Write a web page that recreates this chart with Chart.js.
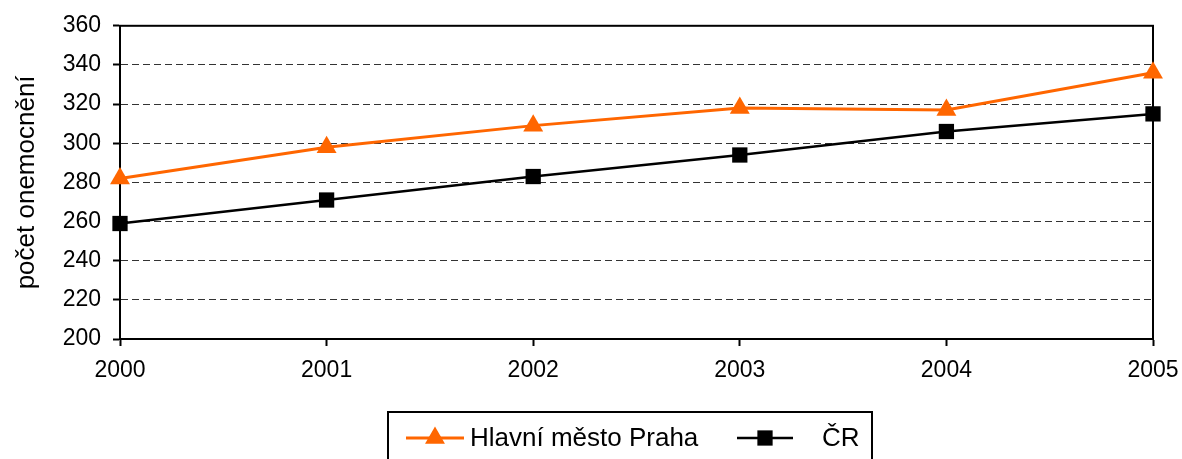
<!DOCTYPE html>
<html>
<head>
<meta charset="utf-8">
<script src="https://cdn.jsdelivr.net/npm/chart.js@4/dist/chart.umd.min.js"></script>
<style>
  html, body { margin: 0; padding: 0; background: #fff; }
  #wrap { width: 1182px; height: 459px; }
</style>
</head>
<body>
<div id="wrap"><canvas id="c" width="1182" height="459"></canvas></div>
<script>
// ── Data ────────────────────────────────────────────────────────────────────
const YEARS  = ['2000', '2001', '2002', '2003', '2004', '2005'];
const PRAHA  = [282, 298, 309, 318, 317, 336];
const CR     = [259, 271, 283, 294, 306, 315];
const Y_MIN  = 200;
const Y_MAX  = 360;
const Y_STEP = 20;

const FAMILY = 'Arial, "Liberation Sans", sans-serif';
const TICK_FONT  = { family: FAMILY, size: 23 };
const LABEL_FONT = { family: FAMILY, size: 26 };
const ORANGE = '#ff6600';

// ── Plugins ─────────────────────────────────────────────────────────────────

// Solid frame round the plot area, drawn under the lines/markers.
const framePlugin = {
  id: 'frame',
  beforeDatasetsDraw(chart) {
    const { ctx, chartArea: a } = chart;
    ctx.save();
    ctx.strokeStyle = '#000';
    ctx.lineWidth = 2;
    ctx.strokeRect(a.left, a.top, a.right - a.left, a.bottom - a.top);
    ctx.restore();
  },
};

// Boxed legend below the chart, sample = line + marker like Excel.
const boxLegend = {
  id: 'boxLegend',
  afterDraw(chart) {
    const { ctx } = chart;
    const box = { left: 388, top: 412, right: 872, bottom: 470 };
    const midY = 438;
    ctx.save();
    ctx.strokeStyle = '#000';
    ctx.lineWidth = 2;
    ctx.strokeRect(box.left, box.top, box.right - box.left, box.bottom - box.top);
    ctx.font = `${LABEL_FONT.size}px ${LABEL_FONT.family}`;
    ctx.textBaseline = 'middle';

    const items = [
      { ds: chart.data.datasets[0], x0: 406, x1: 464, tx: 470 },
      { ds: chart.data.datasets[1], x0: 737, x1: 793, tx: 822 },
    ];
    items.forEach(it => {
      ctx.strokeStyle = it.ds.borderColor;
      ctx.lineWidth = it.ds.borderWidth;
      ctx.beginPath();
      ctx.moveTo(it.x0, midY);
      ctx.lineTo(it.x1, midY);
      ctx.stroke();
      ctx.fillStyle = it.ds.pointBackgroundColor;
      ctx.strokeStyle = it.ds.pointBackgroundColor;
      Chart.helpers.drawPoint(ctx, {
        pointStyle: it.ds.pointStyle,
        radius: it.ds.pointRadius,
        borderWidth: 0,
        rotation: 0,
      }, (it.x0 + it.x1) / 2, midY);
      ctx.fillStyle = '#000';
      ctx.fillText(it.ds.label, it.tx, midY + 1);
    });
    ctx.restore();
  }
};

// ── Chart ───────────────────────────────────────────────────────────────────

new Chart(document.getElementById('c'), {
  type: 'line',
  data: {
    labels: YEARS,
    datasets: [
      {
        label: 'Hlavní město Praha',
        data: PRAHA,
        borderColor: ORANGE,
        backgroundColor: ORANGE,
        pointBackgroundColor: ORANGE,
        pointBorderColor: ORANGE,
        borderWidth: 3,
        pointStyle: 'triangle',
        pointRadius: 11.5,
        pointBorderWidth: 0,
        tension: 0,
        clip: false,
      },
      {
        label: 'ČR',
        data: CR,
        borderColor: '#000',
        backgroundColor: '#000',
        pointBackgroundColor: '#000',
        pointBorderColor: '#000',
        borderWidth: 2.5,
        pointStyle: 'rect',
        pointRadius: 10.8,
        pointBorderWidth: 0,
        tension: 0,
        clip: false,
      },
    ],
  },
  options: {
    responsive: false,
    animation: false,
    layout: { padding: { top: 24, right: 29, left: 0, bottom: 0 } },
    plugins: {
      legend: { display: false },
      tooltip: { enabled: false },
    },
    scales: {
      x: {
        offset: false,
        grid: {
          drawOnChartArea: false,
          drawTicks: true,
          tickLength: 7,
          tickColor: '#000',
          tickWidth: 2,
        },
        border: { display: true, color: '#000', width: 2 },
        ticks: { color: '#000', font: TICK_FONT, padding: 11, maxRotation: 0, autoSkip: false },
        afterFit(scale) {
          scale.height = 120;
          // label overhang is already covered by the fixed paddings
          scale.paddingLeft = 0;
          scale.paddingRight = 0;
        },
      },
      y: {
        min: Y_MIN,
        max: Y_MAX,
        grid: {
          color: '#333',
          lineWidth: 1,
          tickLength: 7,
          tickColor: '#000',
          tickWidth: 2,
          tickBorderDash: [],
        },
        border: { display: true, color: '#000', width: 2, dash: [7, 4] },
        ticks: { stepSize: Y_STEP, color: '#000', font: TICK_FONT, padding: 12 },
        title: {
          display: true,
          text: 'počet onemocnění',
          color: '#000',
          font: LABEL_FONT,
          padding: { top: 11, bottom: 0 },
        },
        afterFit(scale) { scale.width = 120; },
      },
    },
  },
  plugins: [framePlugin, boxLegend],
});
</script>
</body>
</html>
